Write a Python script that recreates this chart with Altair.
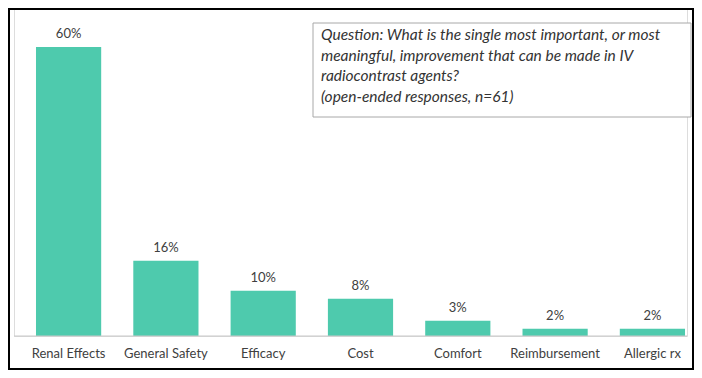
import altair as alt
import pandas as pd

categories = ["Renal Effects", "General Safety", "Efficacy", "Cost", "Comfort", "Reimbursement", "Allergic rx"]
values = [60.7, 15.8, 9.5, 7.8, 3.2, 1.5, 1.5]
labels = ["60%", "16%", "10%", "8%", "3%", "2%", "2%"]
question_lines = [
    "Question: What is the single most important, or most",
    "meaningful, improvement that can be made in IV",
    "radiocontrast  agents?",
    "(open-ended responses, n=61)",
]

df = pd.DataFrame({"cat": categories, "val": values, "lab": labels})
FONT = "Lato"
BAR = "#4ECAAD"
TXT = "#404040"

W, H = 673, 328

x = alt.X(
    "cat:N", sort=categories, title=None,
    scale=alt.Scale(range=[0, 693], paddingInner=0.33, paddingOuter=0.226),
    axis=alt.Axis(domain=False, ticks=False, labelAngle=0, labelFont=FONT,
                  labelFontSize=13, labelColor=TXT, labelPadding=11),
)
y = alt.Y("val:Q", scale=alt.Scale(domain=[0, 68.9], nice=False), axis=None)

base = alt.Chart(df)
bars = base.mark_bar(color=BAR).encode(x=x, y=y)
vals = base.mark_text(baseline="bottom", dy=-6, font=FONT, fontSize=13, color=TXT).encode(
    x=alt.X("cat:N", sort=categories), y="val:Q", text="lab:N")

one = pd.DataFrame({"a": [0]})
baseline = alt.Chart(one).mark_rule(color="#c8c8c8", strokeWidth=1).encode(
    x=alt.value(0), x2=alt.value(W), y=alt.value(H))
box = alt.Chart(one).mark_rect(fill="white", stroke="#a8a8a8", strokeWidth=1).encode(
    x=alt.value(299), x2=alt.value(677), y=alt.value(15), y2=alt.value(109))
qtext = alt.Chart(one).mark_text(
    text=question_lines, align="left", baseline="top", lineHeight=20.5,
    font=FONT, fontStyle="italic", fontSize=15.5, color="#333333",
).encode(x=alt.value(307), y=alt.value(20))
border = alt.Chart(one).mark_rect(fill=None, stroke="black", strokeWidth=2).encode(
    x=alt.value(-5), x2=alt.value(W + 6), y=alt.value(1), y2=alt.value(H + 33))

chart = alt.layer(bars, vals, baseline, box, qtext, border).properties(
    width=W, height=H,
    padding={"left": 6, "right": 7, "top": 0, "bottom": 34},
    autosize=alt.AutoSizeParams(type="none"),
).configure_view(stroke=None).configure(background="white")

chart.save("out.html", embed_options={"renderer": "svg", "actions": False})
